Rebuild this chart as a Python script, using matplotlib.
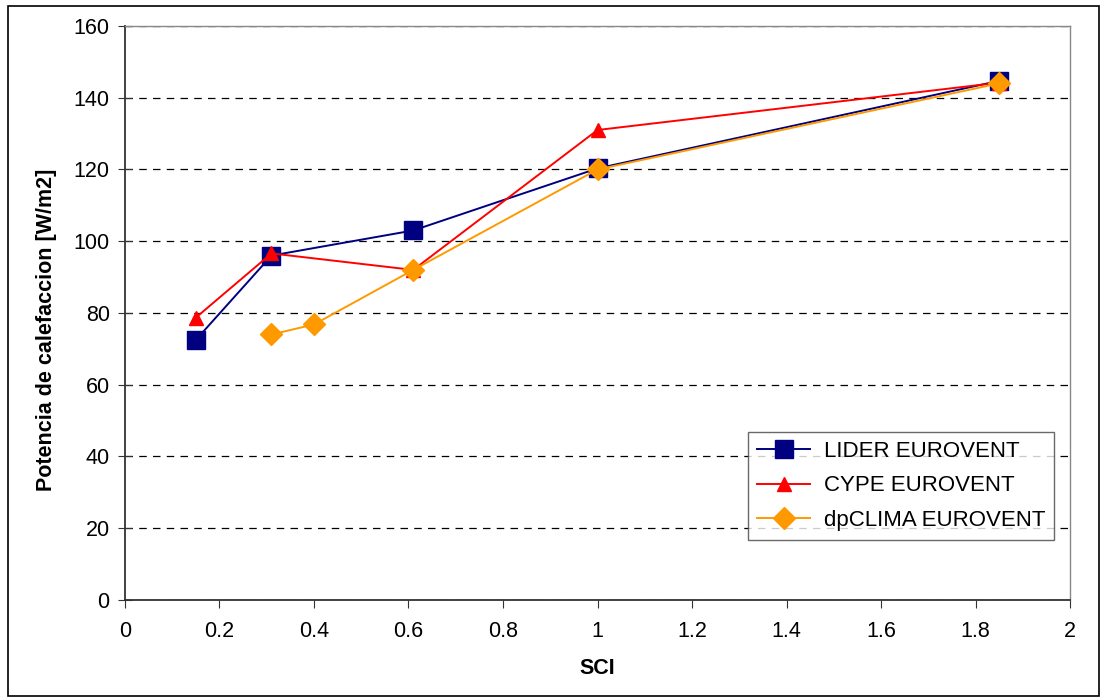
import matplotlib.pyplot as plt
from matplotlib.patches import Rectangle

plt.rcParams['font.family'] = ['Liberation Sans', 'DejaVu Sans']

sci_lider = [0.15, 0.31, 0.61, 1.0, 1.85]
pot_lider = [72.5, 96.0, 103.0, 120.3, 144.7]

sci_cype = [0.15, 0.31, 0.61, 1.0, 1.85]
pot_cype = [78.7, 96.6, 92.0, 131.0, 144.2]

sci_dp = [0.31, 0.40, 0.61, 1.0, 1.85]
pot_dp = [74.0, 76.8, 92.0, 120.0, 144.0]

fig = plt.figure(figsize=(11.07, 7), dpi=100)
ax = fig.add_axes([0.1129, 0.1429, 0.8537, 0.8200])

# marco exterior de la figura
fig.patches.append(Rectangle((0.007, 0.006), 0.986, 0.986, transform=fig.transFigure,
                             fill=False, edgecolor='black', linewidth=1.2))

ax.plot(sci_lider, pot_lider, color='#000080', marker='s', markersize=12.5,
        linewidth=1.4, label='LIDER EUROVENT')
ax.plot(sci_cype, pot_cype, color='#FF0000', marker='^', markersize=9.5,
        linewidth=1.4, label='CYPE EUROVENT')
ax.plot(sci_dp, pot_dp, color='#FF9900', marker='D', markersize=11,
        linewidth=1.4, label='dpCLIMA EUROVENT')

ax.set_xlim(0, 2)
ax.set_ylim(0, 160)
ax.set_xticks([0, 0.2, 0.4, 0.6, 0.8, 1, 1.2, 1.4, 1.6, 1.8, 2])
ax.set_xticklabels(['0', '0.2', '0.4', '0.6', '0.8', '1', '1.2', '1.4', '1.6', '1.8', '2'])
ax.set_yticks(range(0, 161, 20))
ax.tick_params(labelsize=15.5, length=6, color='#333333')
ax.tick_params(axis='y', direction='inout', length=10, pad=6)
ax.tick_params(axis='x', pad=9)

ax.yaxis.grid(True, linestyle=(0, (6, 5)), color='black', linewidth=0.9)
ax.set_axisbelow(True)

for s in ['left', 'bottom']:
    ax.spines[s].set_color('#333333')
    ax.spines[s].set_linewidth(1.3)
for s in ['top', 'right']:
    ax.spines[s].set_color('#888888')
    ax.spines[s].set_linewidth(1.0)

ax.set_xlabel('SCI', fontsize=15.5, fontweight='bold', labelpad=12)
ax.set_ylabel('Potencia de calefaccion [W/m2]', fontsize=15.5, fontweight='bold')
ax.yaxis.set_label_coords(-0.072, 0.47)

leg = ax.legend(loc='lower right', bbox_to_anchor=(0.983, 0.105), fontsize=16,
                frameon=True, fancybox=False, edgecolor='#444444',
                handlelength=2.4, handletextpad=0.6, borderpad=0.4,
                labelspacing=0.6, borderaxespad=0)
leg.get_frame().set_linewidth(1.0)

fig.savefig('out.png', dpi=100)
